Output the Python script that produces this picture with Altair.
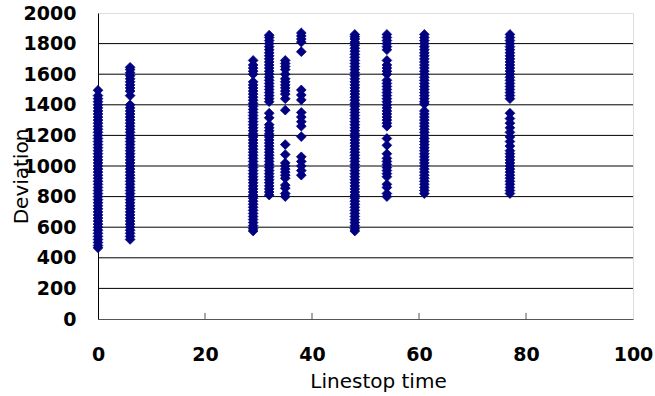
import altair as alt
import pandas as pd

# Linestop time columns and the deviation values read for each
dev_0 = [465, 480, 500, 520, 540, 560, 580, 600, 620, 640, 660, 680, 700, 720, 740, 760, 780, 800,
         820, 840, 860, 880, 900, 920, 940, 960, 980, 1000, 1020, 1040, 1060, 1080, 1100, 1120, 1140,
         1160, 1180, 1200, 1220, 1240, 1260, 1280, 1300, 1320, 1340, 1360, 1380, 1400, 1420, 1440,
         1460, 1495]
dev_6 = [520, 540, 560, 580, 600, 620, 640, 660, 680, 700, 720, 740, 760, 780, 800, 820, 840, 860,
         880, 900, 920, 940, 960, 980, 1000, 1020, 1040, 1060, 1080, 1100, 1120, 1140, 1160, 1180,
         1200, 1220, 1240, 1260, 1280, 1300, 1320, 1340, 1360, 1380, 1400,
         1460, 1490, 1510, 1530, 1550, 1570, 1590, 1610, 1630, 1645]
dev_29 = [575, 590, 610, 630, 650, 670, 690, 710, 730, 750, 770, 790, 810, 830, 850, 870, 890, 910,
          930, 950, 970, 990, 1010, 1030, 1050, 1070, 1090, 1110, 1130, 1150, 1170, 1190, 1210, 1230,
          1250, 1270, 1290, 1310, 1330, 1350, 1370, 1390, 1410, 1430, 1450, 1470, 1490, 1510, 1530,
          1550, 1600, 1620, 1640, 1660, 1690]
dev_32 = [810, 830, 850, 870, 890, 910, 930, 950, 970, 990, 1010, 1030, 1050, 1070, 1090, 1110,
          1130, 1150, 1170, 1190, 1210, 1230, 1250, 1270, 1315, 1345,
          1420, 1440, 1460, 1480, 1500, 1520, 1540, 1560, 1580, 1600, 1620, 1640, 1660, 1680, 1700,
          1720, 1740, 1760, 1780, 1800, 1820, 1840, 1855]
dev_35 = [800, 820, 855, 875, 920, 940, 960, 980, 1000, 1020, 1075, 1140, 1365, 1440, 1470, 1490,
          1510, 1530, 1550, 1570, 1600, 1630, 1650, 1670, 1690]
dev_38 = [940, 970, 1000, 1030, 1060, 1192, 1260, 1290, 1320, 1350, 1432, 1464, 1497, 1747, 1810,
          1830, 1850, 1870]
dev_48 = [575, 590, 610, 630, 650, 670, 690, 710, 730, 750, 770, 790, 810, 830, 850, 870, 890, 910,
          930, 950, 970, 990, 1010, 1030, 1050, 1070, 1090, 1110, 1130, 1150, 1170, 1190, 1210, 1230,
          1250, 1270, 1290, 1310, 1330, 1350, 1370, 1390, 1410, 1430, 1450, 1470, 1490, 1510, 1530,
          1550, 1570, 1590, 1610, 1630, 1650, 1670, 1690, 1710, 1730, 1750, 1770, 1790, 1810, 1830,
          1845, 1860]
dev_54 = [800, 820, 860, 880, 930, 950, 970, 990, 1010, 1030, 1050, 1080, 1135, 1180, 1260, 1280,
          1300, 1320, 1340, 1360, 1380, 1400, 1420, 1440, 1460, 1480, 1500, 1520, 1540, 1560, 1600,
          1620, 1640, 1660, 1690, 1760, 1780, 1800, 1820, 1840, 1860]
dev_61 = [820, 840, 860, 880, 900, 920, 940, 960, 980, 1000, 1020, 1040, 1060, 1080, 1100, 1120,
          1140, 1160, 1180, 1200, 1220, 1240, 1260, 1280, 1300, 1320, 1340, 1360,
          1405, 1420, 1440, 1460, 1480, 1500, 1520, 1540, 1560, 1580, 1600, 1620, 1640, 1660, 1680,
          1700, 1720, 1740, 1760, 1780, 1800, 1820, 1840, 1860]
dev_77 = [820, 840, 860, 880, 900, 920, 940, 960, 980, 1000, 1020, 1040, 1060, 1080, 1100, 1130,
          1160, 1190, 1220, 1250, 1280, 1310, 1345,
          1440, 1460, 1480, 1500, 1520, 1540, 1560, 1580, 1600, 1620, 1640, 1660, 1680, 1700, 1720,
          1740, 1760, 1780, 1800, 1820, 1840, 1860]

columns = {0: dev_0, 6: dev_6, 29: dev_29, 32: dev_32, 35: dev_35, 38: dev_38,
           48: dev_48, 54: dev_54, 61: dev_61, 77: dev_77}

x_ticks = [0, 20, 40, 60, 80, 100]
y_ticks = [0, 200, 400, 600, 800, 1000, 1200, 1400, 1600, 1800, 2000]
grid_vals = [200, 400, 600, 800, 1000, 1200, 1400, 1600, 1800]
inner_ticks = [20, 40, 60, 80]

rows = []
for t, vals in columns.items():
    for v in vals:
        rows.append({"t": t, "dev": v})
df = pd.DataFrame(rows)

FONT = "DejaVu Sans"

xscale = alt.Scale(domain=[0, 100], nice=False)
yscale = alt.Scale(domain=[0, 2000], nice=False)

yaxis = alt.Axis(values=y_ticks, format="d", ticks=False, labelPadding=22, grid=False,
                 domainColor="black", labelOverlap=False, labelFlush=False,
                 labelFont=FONT, labelFontSize=19, labelFontWeight="bold", labelColor="black",
                 titleFont=FONT, titleFontSize=20, titleFontWeight="normal",
                 titleColor="black", titleX=-71, titleY=163, titleAngle=270,
                 titleAlign="center", titleBaseline="alphabetic")
xaxis = alt.Axis(values=x_ticks, format="d", ticks=False, labelPadding=26, grid=False,
                 domainColor="#555555", labelFlush=False, labelOverlap=False,
                 labelFont=FONT, labelFontSize=19, labelFontWeight="bold", labelColor="black",
                 titleFont=FONT, titleFontSize=20, titleFontWeight="normal",
                 titleColor="black", titleX=280, titleY=68,
                 titleBaseline="alphabetic")

grid = alt.Chart(pd.DataFrame({"g": grid_vals})).mark_rule(color="black", strokeWidth=1).encode(
    y=alt.Y("g:Q", scale=yscale, axis=yaxis, title="Deviation"),
)

points = alt.Chart(df).mark_point(shape="diamond", filled=True, size=95, color="#000080",
                                  stroke="#000080", strokeWidth=0.8, opacity=1).encode(
    x=alt.X("t:Q", scale=xscale, title="Linestop time", axis=xaxis),
    y=alt.Y("dev:Q", scale=yscale, title="Deviation", axis=yaxis),
)

tick_df = pd.DataFrame({"tx": inner_ticks, "y0": [0] * 4, "y1": [40] * 4})
ticks = alt.Chart(tick_df).mark_rule(color="#555555", strokeWidth=1).encode(
    x=alt.X("tx:Q", scale=xscale, axis=xaxis, title="Linestop time"),
    y=alt.Y("y0:Q", scale=yscale, axis=yaxis, title="Deviation"),
    y2="y1:Q",
)

chart = alt.layer(grid, points, ticks).properties(
    width=535, height=306,
    autosize=alt.AutoSizeParams(type="none"),
    padding={"left": 98, "top": 13, "right": 22, "bottom": 77},
).configure_view(stroke="#888888", strokeWidth=1).configure(background="white")

chart.save("out.html", embed_options={"renderer": "svg", "actions": False})
